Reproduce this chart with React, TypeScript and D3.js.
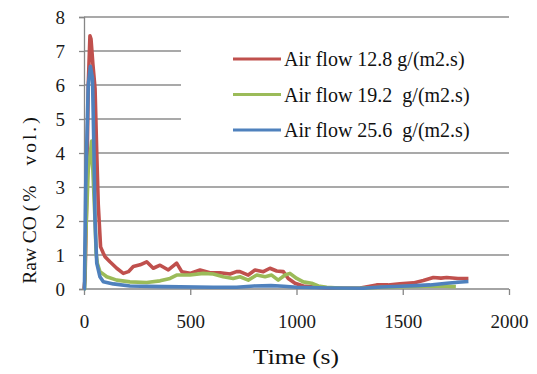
// Raw CO vs time, three air flow rates
import React, { useRef, useEffect } from 'react';
import * as d3 from 'd3';

const timeRed = [0, 5, 12, 20, 28, 33, 42, 52, 60, 67, 78, 91, 99, 122, 154, 185, 209, 232, 264, 295, 326, 358, 397, 436, 460, 499, 546, 593, 640, 687, 718, 734, 773, 805, 844, 875, 907, 938, 961, 993, 1032, 1095, 1150, 1220, 1300, 1377, 1430, 1487, 1550, 1597, 1644, 1680, 1707, 1760, 1809];
const coRed = [0, 0.3, 2.5, 6.0, 7.45, 7.35, 6.6, 5.9, 4.0, 2.5, 1.24, 1.05, 0.95, 0.8, 0.61, 0.46, 0.51, 0.66, 0.71, 0.8, 0.61, 0.7, 0.56, 0.76, 0.51, 0.46, 0.56, 0.48, 0.48, 0.44, 0.51, 0.51, 0.41, 0.56, 0.51, 0.61, 0.53, 0.51, 0.31, 0.17, 0.09, 0.05, 0.03, 0.02, 0.03, 0.12, 0.12, 0.15, 0.18, 0.25, 0.34, 0.32, 0.34, 0.31, 0.31];

const timeGreen = [0, 3, 8, 20, 36, 45, 52, 57, 63, 75, 107, 154, 216, 295, 358, 405, 436, 499, 561, 608, 655, 702, 734, 773, 813, 852, 883, 914, 946, 969, 1001, 1032, 1071, 1103, 1142, 1220, 1300, 1400, 1500, 1600, 1700, 1750];
const coGreen = [0, 0, 1.5, 3.5, 4.35, 3.0, 2.0, 1.05, 0.75, 0.51, 0.36, 0.26, 0.21, 0.19, 0.24, 0.31, 0.41, 0.41, 0.46, 0.44, 0.36, 0.31, 0.36, 0.26, 0.41, 0.36, 0.41, 0.26, 0.41, 0.46, 0.31, 0.21, 0.17, 0.09, 0.05, 0.02, 0.02, 0.05, 0.07, 0.08, 0.08, 0.07];

const timeBlue = [0, 2, 8, 20, 30, 40, 47, 52, 60, 75, 91, 138, 216, 373, 608, 718, 800, 880, 940, 1001, 1158, 1314, 1400, 1490, 1560, 1628, 1707, 1760, 1809];
const coBlue = [0, 0, 3.0, 6.0, 6.55, 6.2, 4.0, 2.0, 0.76, 0.36, 0.21, 0.15, 0.09, 0.07, 0.05, 0.05, 0.09, 0.1, 0.08, 0.05, 0.03, 0.02, 0.06, 0.08, 0.1, 0.12, 0.17, 0.2, 0.22];

const seriesNames = ['Air flow 12.8 g/(m2.s)', 'Air flow 19.2  g/(m2.s)', 'Air flow 25.6  g/(m2.s)'];
const seriesColors = ['#C0504D', '#9BBB59', '#4F81BD'];
const xTicks = [0, 500, 1000, 1500, 2000];
const yTicks = [0, 1, 2, 3, 4, 5, 6, 7, 8];

const width = 537;
const height = 374;
const marginLeft = 84;
const marginRight = 28;
const marginTop = 17;
const marginBottom = 85;
const font = '"Liberation Serif", "Times New Roman", serif';

const App: React.FC = () => {
  const svgRef = useRef<SVGSVGElement>(null);

  useEffect(() => {
    if (!svgRef.current) return;
    const svg = d3.select(svgRef.current);
    svg.selectAll('*').remove();

    const x = d3.scaleLinear().domain([0, 2000]).range([marginLeft, width - marginRight]);
    const y = d3.scaleLinear().domain([0, 8]).range([height - marginBottom, marginTop]);

    // gridlines
    svg.append('g')
      .selectAll('line')
      .data(yTicks.slice(1))
      .join('line')
      .attr('x1', x(0))
      .attr('x2', x(2000))
      .attr('y1', d => y(d))
      .attr('y2', d => y(d))
      .attr('stroke', '#8c8c8c')
      .attr('stroke-width', 1.3);

    // legend background hides some gridlines
    svg.append('rect')
      .attr('x', 181).attr('y', 34)
      .attr('width', x(2000) - 181 + 1).attr('height', 112)
      .attr('fill', '#fff');

    // y axis
    const yAxis = d3.axisLeft(y).tickValues(yTicks).tickSize(5).tickFormat(d3.format('d'));
    const gy = svg.append('g').attr('transform', `translate(${x(0)},0)`).call(yAxis);
    gy.attr('font-family', font);
    gy.selectAll('path, line').attr('stroke', '#868686').attr('stroke-width', 1.3);
    gy.selectAll('text')
      .attr('x', -19)
      .attr('dy', '0.36em')
      .attr('fill', '#1a1a1a')
      .style('font-family', font)
      .style('font-size', '19px');

    // x axis
    const xAxis = d3.axisBottom(x).tickValues(xTicks).tickSize(6).tickFormat(d3.format('d'));
    const gx = svg.append('g').attr('transform', `translate(0,${y(0)})`).call(xAxis);
    gx.attr('font-family', font);
    gx.select('.domain').attr('d', `M${x(0)},0H${x(2000)}`);
    gx.selectAll('path, line').attr('stroke', '#868686').attr('stroke-width', 1.3);
    gx.selectAll('text')
      .attr('dy', null)
      .attr('y', 39)
      .attr('fill', '#1a1a1a')
      .style('font-family', font)
      .style('font-size', '19px');

    // lines
    const line = d3.line<[number, number]>()
      .x(d => x(d[0]))
      .y(d => y(d[1]));

    const series: [number, number][][] = [
      timeRed.map((t, i) => [t, coRed[i]]),
      timeGreen.map((t, i) => [t, coGreen[i]]),
      timeBlue.map((t, i) => [t, coBlue[i]]),
    ];

    svg.append('g')
      .selectAll('path')
      .data(series)
      .join('path')
      .attr('d', d => line(d))
      .attr('fill', 'none')
      .attr('stroke', (d, i) => seriesColors[i])
      .attr('stroke-width', 3.6)
      .attr('stroke-linejoin', 'round');

    // legend
    const lg = svg.append('g');
    seriesNames.forEach((name, i) => {
      const ly = 59 + i * 35.5;
      lg.append('line')
        .attr('x1', 233).attr('x2', 281)
        .attr('y1', ly).attr('y2', ly)
        .attr('stroke', seriesColors[i])
        .attr('stroke-width', 3);
      lg.append('text')
        .attr('x', 284).attr('y', ly + 7)
        .style('font-family', font)
        .style('font-size', '20px')
        .style('white-space', 'pre')
        .attr('fill', '#111')
        .text(name);
    });

    // axis titles
    svg.append('text')
      .attr('x', 296).attr('y', 364)
      .attr('text-anchor', 'middle')
      .attr('textLength', 86)
      .attr('lengthAdjust', 'spacingAndGlyphs')
      .style('font-family', font)
      .style('font-size', '22px')
      .attr('fill', '#111')
      .text('Time (s)');

    const yt = svg.append('text')
      .attr('transform', 'translate(36,199) rotate(-90)')
      .attr('text-anchor', 'middle')
      .style('font-family', font)
      .style('font-size', '19.5px')
      .style('white-space', 'pre')
      .attr('fill', '#111');
    yt.append('tspan').text('Raw CO ');
    yt.append('tspan').attr('letter-spacing', 3).attr('word-spacing', 9).text('(% vol.)');
  }, []);

  return (
    <svg
      ref={svgRef}
      width={width}
      height={height}
      style={{ position: 'absolute', left: 0, top: 0, background: '#fff' }}
    />
  );
};

export default App;
